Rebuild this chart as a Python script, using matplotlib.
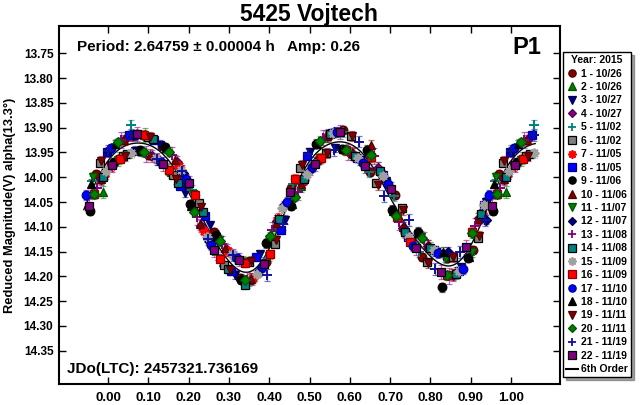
import numpy as np
import matplotlib
matplotlib.use("Agg")
import matplotlib.pyplot as plt
from matplotlib.lines import Line2D

plt.rcParams['font.family'] = ['Liberation Sans', 'DejaVu Sans']
plt.rcParams['font.weight'] = 'bold'

# session labels (Year: 2015)
labels = ["1 - 10/26", "2 - 10/26", "3 - 10/27", "4 - 10/27", "5 - 11/02",
          "6 - 11/02", "7 - 11/05", "8 - 11/05", "9 - 11/06", "10 - 11/06",
          "11 - 11/07", "12 - 11/07", "13 - 11/08", "14 - 11/08", "15 - 11/09",
          "16 - 11/09", "17 - 11/10", "18 - 11/10", "19 - 11/11", "20 - 11/11",
          "21 - 11/19", "22 - 11/19"]

# phase / reduced magnitude, one pair of lists per session
ph01 = [0.012, 0.071, 0.135, 0.198, 0.262, 0.327, 0.391, 0.455, 0.521, 0.584, 0.649, 0.713, 0.778, 0.842, 0.906, 0.969]
mg01 = [13.972, 13.913, 13.937, 14.016, 14.110, 14.204, 14.171, 14.022, 13.966, 13.905, 13.990, 14.036, 14.160, 14.163, 14.147, 13.993]
ph02 = [0.028, 0.093, 0.157, 0.221, 0.286, 0.350, 0.414, 0.478, 0.543, 0.607, 0.671, 0.736, 0.800, 0.864, 0.929, 0.988]
mg02 = [13.961, 13.912, 13.990, 14.048, 14.170, 14.208, 14.100, 14.018, 13.916, 13.953, 13.981, 14.110, 14.143, 14.193, 14.066, 14.030]
ph03 = [0.004, 0.066, 0.129, 0.190, 0.253, 0.315, 0.377, 0.440, 0.502, 0.564, 0.627, 0.689, 0.751, 0.813, 0.876, 0.938]
mg03 = [13.978, 13.947, 13.934, 14.031, 14.097, 14.197, 14.155, 14.086, 13.950, 13.941, 13.966, 14.008, 14.126, 14.150, 14.182, 14.049]
ph04 = [0.045, 0.108, 0.170, 0.232, 0.295, 0.357, 0.420, 0.482, 0.545, 0.607, 0.670, 0.732, 0.795, 0.857, 0.920, 0.982]
mg04 = [13.921, 13.957, 13.970, 14.099, 14.146, 14.205, 14.088, 14.011, 13.915, 13.954, 13.982, 14.102, 14.138, 14.197, 14.083, 14.004]
ph05 = [0.020, 0.057, 0.146, 0.208, 0.271, 0.334, 0.396, 0.459, 0.522, 0.584, 0.647, 0.710, 0.772, 0.835, 0.898, 0.960]
mg05 = [13.932, 13.895, 13.981, 14.026, 14.157, 14.168, 14.163, 14.013, 13.965, 13.908, 13.989, 14.037, 14.151, 14.160, 14.156, 14.008]
ph06 = [0.036, 0.099, 0.162, 0.225, 0.288, 0.351, 0.414, 0.477, 0.540, 0.603, 0.666, 0.729, 0.792, 0.855, 0.918, 0.981]
mg06 = [13.957, 13.918, 13.995, 14.052, 14.176, 14.170, 14.134, 13.982, 13.952, 13.916, 14.012, 14.062, 14.171, 14.161, 14.123, 13.972]
ph07 = [0.008, 0.060, 0.118, 0.176, 0.237, 0.298, 0.360, 0.423, 0.486, 0.549, 0.612, 0.675, 0.738, 0.801, 0.864, 0.927, 0.990]
mg07 = [13.978, 13.916, 13.962, 13.978, 14.108, 14.149, 14.204, 14.082, 14.006, 13.914, 13.958, 13.988, 14.111, 14.144, 14.194, 14.073, 13.997]
ph08 = [0.052, 0.115, 0.178, 0.241, 0.304, 0.367, 0.430, 0.493, 0.556, 0.619, 0.682, 0.745, 0.808, 0.871, 0.934, 0.997]
mg08 = [13.915, 13.925, 14.017, 14.079, 14.190, 14.161, 14.106, 13.958, 13.910, 13.962, 13.996, 14.120, 14.146, 14.190, 14.055, 13.950]
ph09 = [0.016, 0.079, 0.141, 0.204, 0.267, 0.329, 0.392, 0.455, 0.517, 0.580, 0.642, 0.705, 0.768, 0.830, 0.893, 0.955]
mg09 = [13.970, 13.946, 13.940, 14.054, 14.116, 14.207, 14.133, 14.058, 13.932, 13.943, 13.945, 14.066, 14.110, 14.222, 14.162, 14.068]
ph10 = [0.040, 0.103, 0.166, 0.229, 0.291, 0.354, 0.417, 0.480, 0.543, 0.605, 0.652, 0.731, 0.794, 0.856, 0.919, 0.982]
mg10 = [13.925, 13.955, 13.966, 14.095, 14.143, 14.205, 14.092, 14.013, 13.917, 13.951, 13.935, 14.101, 14.137, 14.196, 14.084, 14.003]
ph11 = [0.024, 0.087, 0.150, 0.212, 0.275, 0.338, 0.400, 0.463, 0.526, 0.588, 0.651, 0.714, 0.776, 0.839, 0.902, 0.964]
mg11 = [13.966, 13.917, 13.985, 14.034, 14.127, 14.171, 14.158, 14.007, 13.962, 13.945, 13.958, 14.078, 14.120, 14.162, 14.150, 14.000]
ph12 = [0.000, 0.062, 0.125, 0.187, 0.250, 0.312, 0.375, 0.437, 0.500, 0.562, 0.625, 0.687, 0.750, 0.812, 0.843, 0.937]
mg12 = [13.948, 13.915, 13.966, 13.992, 14.128, 14.158, 14.190, 14.056, 13.986, 13.909, 13.966, 14.004, 14.126, 14.149, 14.150, 14.086]
ph13 = [0.032, 0.095, 0.158, 0.220, 0.283, 0.346, 0.408, 0.471, 0.534, 0.596, 0.659, 0.722, 0.784, 0.847, 0.910, 0.972]
mg13 = [13.925, 13.953, 13.955, 14.081, 14.134, 14.208, 14.107, 14.029, 13.920, 13.949, 13.958, 14.090, 14.127, 14.199, 14.099, 14.022]
ph14 = [0.048, 0.111, 0.174, 0.236, 0.299, 0.340, 0.424, 0.487, 0.550, 0.612, 0.675, 0.738, 0.800, 0.863, 0.926, 0.988]
mg14 = [13.954, 13.922, 14.011, 14.070, 14.186, 14.218, 14.084, 14.004, 13.913, 13.958, 13.987, 14.110, 14.142, 14.195, 14.075, 13.999]
ph15 = [0.056, 0.119, 0.182, 0.245, 0.307, 0.370, 0.433, 0.495, 0.558, 0.621, 0.683, 0.746, 0.809, 0.871, 0.934, 0.996]
mg15 = [13.952, 13.962, 13.985, 14.120, 14.155, 14.195, 14.063, 13.993, 13.910, 13.962, 13.998, 14.120, 14.147, 14.189, 14.056, 13.988]
ph16 = [0.030, 0.090, 0.152, 0.215, 0.277, 0.340, 0.402, 0.465, 0.528, 0.590, 0.653, 0.716, 0.750, 0.841, 0.904, 0.966]
mg16 = [13.963, 13.914, 13.986, 14.035, 14.164, 14.172, 14.155, 14.003, 13.962, 13.946, 13.960, 14.080, 14.130, 14.198, 14.110, 14.033]
ph17 = [0.007, 0.068, 0.131, 0.194, 0.256, 0.319, 0.381, 0.444, 0.507, 0.569, 0.632, 0.694, 0.757, 0.820, 0.882, 0.945]
mg17 = [13.942, 13.914, 13.970, 14.003, 14.137, 14.163, 14.182, 14.050, 13.979, 13.908, 13.971, 14.014, 14.139, 14.153, 14.185, 14.035]
ph18 = [0.018, 0.081, 0.143, 0.206, 0.269, 0.331, 0.394, 0.457, 0.519, 0.582, 0.644, 0.707, 0.770, 0.832, 0.895, 0.957]
mg18 = [13.933, 13.948, 13.942, 14.058, 14.118, 14.204, 14.131, 14.054, 13.933, 13.943, 13.948, 14.068, 14.113, 14.150, 14.160, 14.013]
ph19 = [0.042, 0.105, 0.168, 0.230, 0.303, 0.356, 0.418, 0.481, 0.544, 0.606, 0.669, 0.732, 0.794, 0.857, 0.920, 0.982]
mg19 = [13.957, 13.919, 14.003, 14.061, 14.188, 14.168, 14.126, 13.976, 13.952, 13.917, 14.016, 14.066, 14.173, 14.160, 14.118, 13.968]
ph20 = [0.026, 0.089, 0.151, 0.214, 0.277, 0.339, 0.402, 0.465, 0.527, 0.590, 0.652, 0.715, 0.778, 0.840, 0.903, 0.965]
mg20 = [13.929, 13.950, 13.949, 14.070, 14.128, 14.208, 14.119, 14.039, 13.926, 13.946, 13.956, 14.079, 14.122, 14.198, 14.113, 14.034]
ph21 = [0.058, 0.121, 0.184, 0.247, 0.309, 0.395, 0.435, 0.497, 0.560, 0.623, 0.685, 0.748, 0.811, 0.873, 0.936, 0.999]
mg21 = [13.915, 13.963, 13.988, 14.124, 14.156, 14.197, 14.095, 13.954, 13.945, 13.928, 14.037, 14.087, 14.185, 14.151, 14.087, 13.948]
ph22 = [0.010, 0.073, 0.137, 0.200, 0.263, 0.325, 0.388, 0.451, 0.513, 0.576, 0.638, 0.701, 0.764, 0.826, 0.889, 0.952]
mg22 = [13.975, 13.913, 13.974, 14.012, 14.147, 14.166, 14.175, 14.029, 13.973, 13.908, 13.978, 14.023, 14.142, 14.192, 14.141, 14.058]

# typical error per session (mag)
errs = [0.008, 0.012, 0.009, 0.012, 0.010, 0.008, 0.009, 0.008, 0.009, 0.011, 0.011,
        0.009, 0.016, 0.008, 0.009, 0.009, 0.010, 0.009, 0.010, 0.009, 0.012, 0.014]

phases = [ph01, ph02, ph03, ph04, ph05, ph06, ph07, ph08, ph09, ph10, ph11,
          ph12, ph13, ph14, ph15, ph16, ph17, ph18, ph19, ph20, ph21, ph22]
mags = [mg01, mg02, mg03, mg04, mg05, mg06, mg07, mg08, mg09, mg10, mg11,
        mg12, mg13, mg14, mg15, mg16, mg17, mg18, mg19, mg20, mg21, mg22]

colors = ['#800000', '#008000', '#000080', '#800080', '#008080', '#808080',
          '#ff0000', '#0000ff', '#000000', '#800000', '#008000', '#000080',
          '#800080', '#008080', '#a0a0a0', '#ff0000', '#0000ff', '#000000',
          '#800000', '#008000', '#1010a0', '#800080']
star = (8, 2, 0)
markers = ['o', '^', 'v', 'D', '+', 's', star, 's', 'o', '^', 'v',
           'D', '+', 's', star, 's', 'o', '^', 'v', 'D', '+', 's']
edges = ['#500000', '#005000', '#000050', '#500050', '#008080', '#000000',
         '#ff0000', '#000090', '#000000', '#500000', '#005000', '#000050',
         '#800080', '#000000', '#a0a0a0', '#900000', '#000090', '#000000',
         '#500000', '#005000', '#1010a0', '#000000']


def msize(mk):
    if mk == 'D':
        return 5.0
    if mk == '+':
        return 7.0
    if mk == star:
        return 7.0
    return 6.2


fig = plt.figure(figsize=(6.4, 4.05), dpi=100)
ax = fig.add_axes([59 / 640, 21 / 405, 501 / 640, 358 / 405])

all_ph = []
all_mg = []
for i in range(22):
    p = np.array(phases[i])
    m = np.array(mags[i])
    all_ph.append(p)
    all_mg.append(m)
    # wrap the ends so the curve runs from about -0.06 to 1.06
    pw = np.concatenate([p, p[p > 0.94] - 1.0, p[p < 0.06] + 1.0])
    mw = np.concatenate([m, m[p > 0.94], m[p < 0.06]])
    mk = markers[i]
    ax.errorbar(pw, mw, yerr=errs[i], fmt='none', ecolor=colors[i],
                elinewidth=0.9, capsize=2, capthick=0.9, alpha=0.55, zorder=2)
    ax.plot(pw, mw, linestyle='none', marker=mk, markersize=msize(mk),
            markerfacecolor=colors[i], markeredgecolor=edges[i],
            markeredgewidth=1.4 if mk in ('+', star) else 0.9, zorder=3)

# 6th order Fourier fit of the folded data
fp = np.concatenate(all_ph)
fm = np.concatenate(all_mg)
cols = [np.ones_like(fp)]
for k in range(1, 7):
    cols.append(np.cos(2 * np.pi * k * fp))
    cols.append(np.sin(2 * np.pi * k * fp))
coef, *_ = np.linalg.lstsq(np.column_stack(cols), fm, rcond=None)
xf = np.linspace(-0.06, 1.06, 400)
cf = [np.ones_like(xf)]
for k in range(1, 7):
    cf.append(np.cos(2 * np.pi * k * xf))
    cf.append(np.sin(2 * np.pi * k * xf))
ax.plot(xf, np.column_stack(cf) @ coef, color='black', linewidth=1.0, zorder=1)

ax.set_xlim(-0.1216, 1.1216)
ax.set_ylim(14.417, 13.695)
ax.set_xticks(np.arange(0, 1.001, 0.1))
ax.set_xticklabels(['%.2f' % v for v in np.arange(0, 1.001, 0.1)])
yt = np.arange(13.75, 14.351, 0.05)
ax.set_yticks(yt)
ax.set_yticklabels(['%.2f' % v for v in yt])
ax.tick_params(direction='in', top=True, right=True, length=5, width=1, pad=6)
ax.tick_params(axis='x', labelsize=9.5)
ax.tick_params(axis='y', labelsize=8.6, pad=4)
for lab in ax.get_xticklabels() + ax.get_yticklabels():
    lab.set_fontweight('bold')
for sp in ax.spines.values():
    sp.set_linewidth(1.5)

ax.set_ylabel('Reduced Magnitude(V) alpha(13.3°)', fontsize=9.3, fontweight='bold')
ax.yaxis.set_label_coords(-0.085, 0.5)
fig.text(309 / 640, 1 - 14 / 405, '5425 Vojtech', ha='center', va='center',
         fontsize=16.5, fontweight='bold')
ax.text(0.036, 0.940, 'Period: 2.64759 ± 0.00004 h   Amp: 0.26', transform=ax.transAxes,
        ha='left', va='center', fontsize=11, fontweight='bold')
ax.text(0.962, 0.940, 'P1', transform=ax.transAxes, ha='right', va='center',
        fontsize=17, fontweight='bold')
ax.text(0.016, 0.042, 'JDo(LTC): 2457321.736169', transform=ax.transAxes,
        ha='left', va='center', fontsize=11, fontweight='bold')

handles = []
for i in range(22):
    mk = markers[i]
    handles.append(Line2D([], [], linestyle='none', marker=mk,
                          markersize=msize(mk) * 0.85,
                          markerfacecolor=colors[i], markeredgecolor=edges[i],
                          markeredgewidth=1.3 if mk in ('+', star) else 0.9))
handles.append(Line2D([], [], color='black', linewidth=1.5))
leg = fig.legend(handles, labels + ['6th Order'], title='Year: 2015',
                 loc='upper left', bbox_to_anchor=(563 / 640, 1 - 52 / 405),
                 prop={'weight': 'bold', 'size': 7.5},
                 title_fontproperties={'weight': 'bold', 'size': 7.5},
                 frameon=True, fancybox=False, shadow=True, framealpha=1,
                 edgecolor='black', borderpad=0.3, labelspacing=0.33,
                 handlelength=1.1, handletextpad=0.35, borderaxespad=0)
leg.get_frame().set_linewidth(1.0)

fig.savefig('out.png', dpi=100)
